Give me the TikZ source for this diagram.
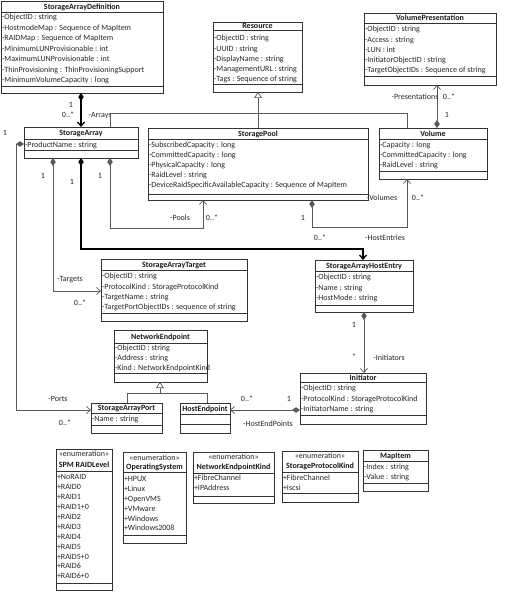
\documentclass[tikz,border=0pt]{standalone}
\usepackage{fontspec}
\setmainfont{Carlito}
\usetikzlibrary{arrows.meta,fit}
\newcommand\umlclass[9]{%
  \coordinate (#1-nw) at (#2,#3);
  \coordinate (#1-se) at (#4,#5);
  \node[cls, fit=(#1-nw)(#1-se)] (#1) {};
  \draw[div] (#2,#6) -- (#4,#6);
  \draw[div] (#2,#7) -- (#4,#7);
  \node[ttl] at ({(#2+#4)/2},#8) {#9};
}
\newcommand\umlattrs[4]{%
  \foreach \myitem [count=\i from 0] in {#4} \node[attr] at (#1+0.8, #2+\i*#3) {\myitem};
}
\begin{document}
\begin{tikzpicture}[x=1pt,y=-1pt,
  cls/.style={draw=black!80, line width=0.7pt, inner sep=0pt, outer sep=0pt},
  div/.style={draw=black!80, line width=0.7pt},
  ttl/.style={font=\fontsize{8}{9.6}\selectfont\bfseries, inner sep=0pt, anchor=base, yshift=-2.8pt, text=black!90},
  attr/.style={font=\fontsize{8}{9.6}\selectfont, inner sep=0pt, anchor=base west, yshift=-2.8pt, text=black!85},
  lbl/.style={font=\fontsize{8}{9.6}\selectfont, inner sep=0pt, anchor=base, yshift=-2.8pt, text=black!85},
  conn/.style={draw=black!65, line width=0.7pt},
  connb/.style={draw=black, line width=1.3pt},
  comp/.style={arrows={Diamond[length=8pt,width=5.5pt]-Straight Barb[length=4pt,width=7pt]}},
  inh/.style={-{Triangle[open,length=6pt,width=8pt]}}
]
\fill[white] (0,0) rectangle (510,593);
\useasboundingbox (0,0) rectangle (510,593);

% classes
\umlclass{sad}{1}{1}{163}{93}{12}{86}{7}{StorageArrayDefinition}
\umlattrs{1}{17}{10.5}{-ObjectID : string,-HostmodeMap : Sequence of MapItem,-RAIDMap : Sequence of MapItem,-MinimumLUNProvisionable : int,-MaximumLUNProvisionable : int,-ThinProvisioning : ThinProvisioningSupport,-MinimumVolumeCapacity : long}

\umlclass{res}{213}{22}{302}{92}{30}{84}{26}{Resource}
\umlattrs{213}{38}{10.25}{-ObjectID : string,-UUID : string,-DisplayName : string,-ManagementURL : string,-Tags : Sequence of string}

\umlclass{vp}{364}{13}{496}{85}{23}{76}{18}{VolumePresentation}
\umlattrs{364}{29}{10.25}{-ObjectID : string,-Access : string,-LUN : int,-InitiatorObjectID : string,-TargetObjectIDs : Sequence of string}

\umlclass{sa}{24}{127}{138}{158}{139}{150}{133}{StorageArray}
\umlattrs{24}{144.5}{10}{-ProductName : string}

\umlclass{sp}{148}{128}{368}{200}{139}{194}{133.5}{StoragePool}
\umlattrs{148}{145}{10}{-SubscribedCapacity : long,-CommittedCapacity : long,-PhysicalCapacity : long,-RaidLevel : string,-DeviceRaidSpecificAvailableCapacity : Sequence of MapItem}

\umlclass{vol}{379}{128}{487}{179}{139}{171}{133.5}{Volume}
\umlattrs{379}{145}{9.8}{-Capacity : long,-CommittedCapacity : long,-RaidLevel : string}

\umlclass{sat}{101}{259}{247}{321}{270}{313}{265}{StorageArrayTarget}
\umlattrs{101}{276}{10.2}{-ObjectID : string,-ProtocolKind : StorageProtocolKind,-TargetName : string,-TargetPortObjectIDs : sequence of string}

\umlclass{sahe}{315}{260}{413}{312}{271}{305}{266}{StorageArrayHostEntry}
\umlattrs{315}{277}{10.5}{-ObjectID : string,-Name : string,-HostMode : string}

\umlclass{ne}{114}{330}{207}{382}{343}{373}{337}{NetworkEndpoint}
\umlattrs{114}{348}{9.6}{-ObjectID : string,-Address : string,-Kind : NetworkEndpointKind}

\umlclass{sap}{91}{403}{162}{433}{413}{425}{408}{StorageArrayPort}
\umlattrs{91}{419}{10}{-Name : string}

\umlclass{he}{180}{403}{230}{433}{414}{424}{408.5}{HostEndpoint}

\umlclass{init}{300}{373}{426}{424}{382}{415}{377.5}{Initiator}
\umlattrs{300}{388}{10.5}{-ObjectID : string,-ProtocolKind : StorageProtocolKind,-InitiatorName : string}

\umlclass{raid}{56}{449}{112}{590}{471}{583}{465}{SPM RAIDLevel}
\node[lbl] at (84,454) {«enumeration»};
\umlattrs{56}{477}{9.9}{+NoRAID,+RAID0,+RAID1,+RAID1+0,+RAID2,+RAID3,+RAID4,+RAID5,+RAID5+0,+RAID6,+RAID6+0}

\umlclass{os}{123}{452}{186}{543}{472}{535}{467}{OperatingSystem}
\node[lbl] at (154.5,458) {«enumeration»};
\umlattrs{123}{479}{9.8}{+HPUX,+Linux,+OpenVMS,+VMware,+Windows,+Windows2008}

\umlclass{nek}{193}{452}{274}{503}{473}{496}{467}{NetworkEndpointKind}
\node[lbl] at (233.5,457) {«enumeration»};
\umlattrs{193}{478}{10}{+FibreChannel,+IPAddress}

\umlclass{spk}{282}{451}{358}{502}{472}{493}{466}{StorageProtocolKind}
\node[lbl] at (320,456) {«enumeration»};
\umlattrs{282}{478}{10}{+FibreChannel,+Iscsi}

\umlclass{mi}{363}{450}{428}{491}{461}{483}{456}{MapItem}
\umlattrs{363}{467}{10}{-Index : string,-Value : string}

% connectors
\draw[connb, comp] (81,0 |- sad.south) -- (81,0 |- sa.north);
\node[lbl] at (71,105) {1};
\node[lbl] at (68,115) {0..*};
\node[lbl] at (100,115) {-Arrays};

\draw[conn] (110,0 |- sa.north) |- (407,113) -- (407,0 |- vol.north);

\draw[conn, inh] (258,0 |- sp.north) -- (258,0 |- res.south);

\draw[conn, comp] (437,0 |- vol.north) -- (437,0 |- vp.south);
\node[lbl] at (415,97) {-Presentations};
\node[lbl] at (449,97) {0..*};
\node[lbl] at (447,115) {1};

\draw[conn, comp] (110,0 |- sa.south) |- (203,228) -- (203,0 |- sp.south);
\node[lbl] at (100,176) {1};
\node[lbl] at (180,218) {-Pools};
\node[lbl] at (212,218) {0..*};

\draw[conn, comp] (312,0 |- sp.south) |- (407,227) -- (407,0 |- vol.south);
\node[lbl] at (303,218) {1};
\node[lbl] at (382,198) {-Volumes};
\node[lbl] at (418,198) {0..*};

\draw[connb, comp] (81,0 |- sa.south) |- (363,249) -- (363,0 |- sahe.north);
\node[lbl] at (72,182) {1};
\node[lbl] at (320,238) {0..*};
\node[lbl] at (385,238) {-HostEntries};

\draw[conn, comp] (53,0 |- sa.south) |- (0,291 -| sat.west);
\node[lbl] at (43,176) {1};
\node[lbl] at (70,279) {-Targets};
\node[lbl] at (80,303) {0..*};

\draw[conn, comp] (sa.west |- 0,144) -| (16,410) -- (sap.west |- 0,410);
\node[lbl] at (5,133) {1};
\node[lbl] at (58,399) {-Ports};
\node[lbl] at (65,423) {0..*};

\draw[conn] (127,0 |- sap.north) |- (207,393) -- (207,0 |- he.north);
\draw[conn, inh] (160,393) -- (160,0 |- ne.south);

\draw[conn, comp] (364,0 |- sahe.south) -- (364,0 |- init.north);
\node[lbl] at (354,325) {1};
\node[lbl] at (354,357) {*};
\node[lbl] at (389,358) {-Initiators};

\draw[conn, comp] (init.west |- 0,410) -- (he.east |- 0,410);
\node[lbl] at (247,399) {0..*};
\node[lbl] at (289,399) {1};
\node[lbl] at (268,424) {-HostEndPoints};
\end{tikzpicture}
\end{document}
